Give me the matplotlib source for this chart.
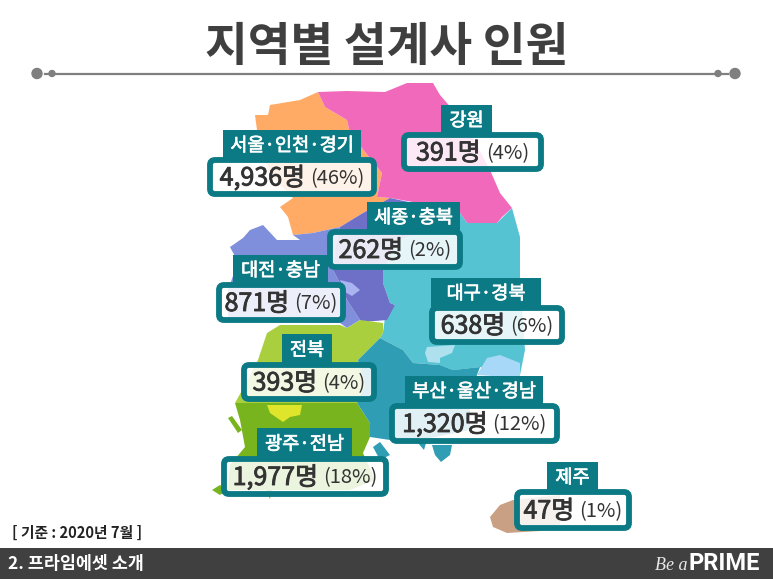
import matplotlib
matplotlib.use("Agg")
import matplotlib.pyplot as plt
import matplotlib.patheffects as pe
from matplotlib.patches import Polygon, FancyBboxPatch, Rectangle, Circle

KR = ['Noto Sans CJK KR', 'DejaVu Sans']
plt.rcParams['font.family'] = KR

TITLE = "지역별 설계사 인원"
NOTE = "[ 기준 : 2020년 7월 ]"
SECTION = "2. 프라임에셋 소개"

regions = ["서울·인천·경기", "강원", "세종·충북", "대전·충남", "대구·경북", "전북", "부산·울산·경남", "광주·전남", "제주"]
headcount = [4936, 391, 262, 871, 638, 393, 1320, 1977, 47]
share = [46, 4, 2, 7, 6, 4, 12, 18, 1]

# label layout in picture pixels: tab (x0, x1, y0), box (x0, x1, y0, y1)
tabs = [(223, 361, 130), (441, 492, 105), (367, 460, 202), (233, 328, 255), (431, 541, 278),
        (282, 332, 334), (405, 543, 376), (257, 352, 428), (547, 598, 462)]
boxes = [(207, 377, 157, 197), (401, 544, 132, 172), (327, 463, 229, 270), (216, 346, 282, 323),
         (429, 565, 305, 345), (241, 377, 362, 402), (389, 560, 403, 444), (221, 389, 456, 497),
         (514, 632, 489, 531)]

# hand-traced map outlines, in picture pixels
map_shapes = [
    ("#ffab66", [(318,92),(300,100),(270,105),(268,115),(255,115),(257,130),(262,150),(270,175),(285,190),(293,198),
                 (280,207),(288,217),(293,235),(313,233),(340,227),(363,213),(390,198),(377,197),(382,173),(377,167),
                 (350,133),(347,120),(325,107)]),
    ("#f069bb", [(318,92),(325,107),(347,120),(350,133),(377,167),(382,173),(377,197),(390,198),(430,205),(460,213),
                 (467,223),(497,223),(502,217),(512,208),(500,193),(490,170),(467,127),(453,110),(440,95),(433,83),
                 (407,83),(385,92),(347,91)]),
    ("#56c3d2", [(460,213),(467,223),(497,223),(512,208),(520,237),(520,277),(525,350),(520,375),(480,367),(453,370),
                 (440,365),(413,363),(403,350),(380,338),(383,333),(385,317),(395,305),(390,303),(383,283),(383,270),(400,240)]),
    ("#7f8fdc", [(230,247),(243,238),(250,230),(263,225),(277,240),(300,240),(293,235),(313,233),(340,227),(335,250),
                 (333,270),(340,283),(347,300),(360,320),(347,328),(340,323),(300,322),(228,318),(228,290),(238,262)]),
    ("#6e70c8", [(340,227),(363,213),(390,198),(460,213),(400,240),(383,270),(383,283),(390,303),(395,305),(387,320),
                 (363,322),(360,320),(347,300),(340,283),(333,270),(335,250)]),
    ("#aab4f0", [(340,280),(352,283),(360,290),(352,296),(345,292)]),
    ("#a9cf3f", [(267,333),(280,325),(340,325),(347,328),(360,320),(383,323),(383,333),(380,338),(358,360),(365,385),
                 (357,403),(300,403),(235,403),(245,385),(258,360)]),
    ("#78b41e", [(235,403),(357,403),(370,423),(370,437),(363,453),(375,480),(350,490),(272,490),(270,499),(266,490),
                 (228,490),(230,465),(245,447),(240,420)]),
    ("#78b41e", [(212,490),(220,485),(228,490),(220,495)]),
    ("#78b41e", [(228,418),(232,416),(242,430),(238,433)]),
    ("#dfe52a", [(267,405),(302,405),(300,415),(290,417),(283,422),(270,413)]),
    ("#2f9db3", [(358,360),(380,338),(403,350),(413,363),(440,365),(453,370),(480,367),(477,375),(470,395),(470,430),
                 (420,440),(390,440),(370,437),(370,423),(357,403),(365,385)]),
    ("#2f9db3", [(373,447),(380,442),(390,455),(380,460)]),
    ("#2f9db3", [(432,445),(452,445),(450,455),(441,462),(435,455)]),
    ("#2f9db3", [(418,443),(426,443),(424,450)]),
    ("#56c3d2", [(440,365),(450,350),(480,345),(520,345),(520,375),(480,367),(453,370)]),
    ("#aee0ee", [(427,347),(455,345),(452,353),(440,358),(440,363),(428,362),(425,353)]),
    ("#a8d8f8", [(477,375),(487,358),(500,355),(520,363),(520,378)]),
    ("#c9a083", [(490,517),(500,505),(513,500),(560,495),(560,525),(540,531),(507,533),(493,527)]),
]

TEAL = "#0c7a85"
INK = "#333333"

fig = plt.figure(figsize=(7.73, 5.80), dpi=100, facecolor="white")
ax = fig.add_axes([0, 0, 1, 1])
ax.set_xlim(0, 773)
ax.set_ylim(580, 0)
ax.axis("off")

# title and rule
ax.text(387, 47, TITLE, ha="center", va="center", fontsize=33.5, fontweight="bold", color="#3f3f3f")
ax.plot([45, 728], [74, 74], color="#7f7f7f", lw=1.6, zorder=1)
for cx, r in [(37, 5), (52, 3), (718, 3), (735, 5)]:
    ax.add_patch(Circle((cx, 73.5), r, color="#7f7f7f", zorder=2))

# map
for color, pts in map_shapes:
    ax.add_patch(Polygon(pts, closed=True, facecolor=color, edgecolor="none", zorder=3))

# labels
fig.canvas.draw()
rend = fig.canvas.get_renderer()
for i, name in enumerate(regions):
    tx0, tx1, ty0 = tabs[i]
    bx0, bx1, by0, by1 = boxes[i]
    ax.add_patch(Rectangle((tx0, ty0), tx1 - tx0, by0 - ty0 + 2, facecolor=TEAL, edgecolor="none", zorder=5))
    nt = ax.text((tx0 + tx1) / 2, (ty0 + by0) / 2 + 2.5, name, ha="center", va="center", fontsize=13.4,
                 color="white", zorder=7)
    nt.set_path_effects([pe.withStroke(linewidth=0.5, foreground="white")])
    ax.add_patch(FancyBboxPatch((bx0 + 3, by0 + 3), bx1 - bx0 - 6, by1 - by0 - 6,
                                boxstyle="round,pad=0,rounding_size=5", facecolor=(1, 1, 1, 0.86),
                                edgecolor=TEAL, linewidth=4.2, zorder=6))
    ymid = (by0 + by1) / 2 + 1.5
    v = ax.text(0, ymid, f"{headcount[i]:,}명", ha="left", va="center", fontsize=18, color=INK, zorder=7)
    v.set_path_effects([pe.withStroke(linewidth=0.6, foreground=INK)])
    p = ax.text(0, ymid, f"({share[i]}%)", ha="left", va="center", fontsize=14.5, color=INK, zorder=7)
    wv = v.get_window_extent(rend).width
    wp = p.get_window_extent(rend).width
    gap = 5
    left = (bx0 + bx1) / 2 - (wv + gap + wp) / 2
    v.set_x(left)
    p.set_x(left + wv + gap)

# footer
ax.text(12, 533, NOTE, ha="left", va="center", fontsize=10.6, fontweight="bold", color="#222222")
ax.add_patch(Rectangle((0, 548), 773, 30.5, facecolor="#404040", edgecolor="none", zorder=3))
ax.text(8, 564, SECTION, ha="left", va="center", fontsize=12.5, fontweight="bold", color="white", zorder=4)
ax.text(655, 565, "Be a", ha="left", va="center", fontsize=13, style="italic", family="Liberation Serif",
        color="#e8e8e8", zorder=4)
ax.text(760, 563, "PRIME", ha="right", va="center", fontsize=17, fontweight="bold", family="Roboto",
        color="white", zorder=4)

fig.savefig("out.png", dpi=100, facecolor="white")
